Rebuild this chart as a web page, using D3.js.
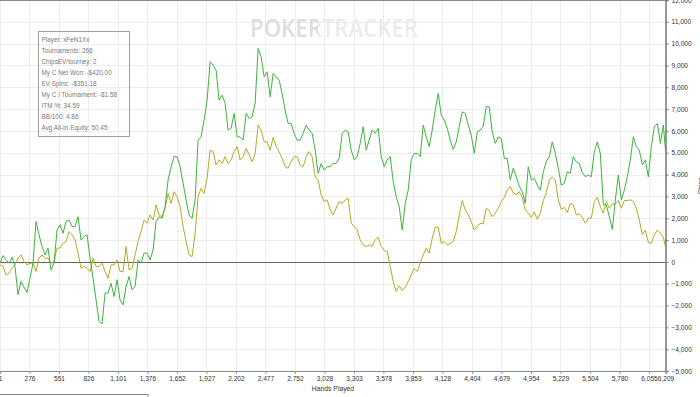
<!DOCTYPE html>
<html><head><meta charset="utf-8">
<script src="https://cdn.jsdelivr.net/npm/d3@7/dist/d3.min.js"></script>
<style>html,body{margin:0;padding:0;background:#fff;overflow:hidden}svg{display:block}</style>
</head><body><svg id="c" width="700" height="397"></svg>
<script>
// ---- data ----
const handStart = 1, handEnd = 6209, handStep = 28;
const xTickLabels = [1,276,551,826,1101,1376,1652,1927,2202,2477,2752,3028,3303,3578,3853,4128,4404,4679,4954,5229,5504,5780,6055,6209];
const yTickValues = [-5000,-4000,-3000,-2000,-1000,0,1000,2000,3000,4000,5000,6000,7000,8000,9000,10000,11000,12000];
const netWon = [-60,290,90,-60,210,-210,-1500,-900,-1160,-1400,-750,-60,1850,1240,700,320,630,-370,-60,1460,1700,1310,1850,1920,1620,1620,2070,1000,1160,1240,170,-750,-1740,-2730,-2850,-1430,-1430,-980,-1590,-820,-1740,-1970,-1130,-670,-1280,-1130,90,-60,400,400,90,550,1850,2070,2000,2530,3750,
4360,4820,4820,4360,3600,2840,2150,2000,2840,5580,5730,6500,7410,9170,9010,8780,7410,7640,7260,6040,6120,6800,5730,5730,5580,6800,6570,6650,7260,9780,9400,8480,8710,7560,8630,8480,8330,7720,6950,6340,6340,5890,5580,5580,5890,6270,6040,5890,5120,4060,4510,4210,4360,4360,4510,
4510,4740,5890,6040,5960,5120,4670,4820,5430,6190,5120,5580,6040,5890,6120,4820,4360,4670,4820,3680,2990,2530,1460,2680,3290,4670,4970,4970,4820,6270,5730,5280,6040,6950,7720,6730,6500,6120,5580,5150,5500,6190,6880,6800,6270,5810,4970,5960,6040,6220,7110,7110,5960,5430,5730,
5660,4740,4740,3750,4290,3900,3450,3220,2680,4360,3750,3830,3520,3290,4130,4590,4820,5500,4970,4290,3520,3600,4130,4060,4820,4590,4510,4090,3900,3980,3900,5050,5500,4970,2610,2610,2070,1490,2840,3980,2840,3290,3900,4670,5730,5280,5120,4440,4670,3900,5280,6190,6340,5430,6270,5100];
const evWon = [-140,-210,-600,-520,-290,-140,170,320,20,-140,-60,-60,-440,170,320,170,170,-60,20,630,630,850,930,1390,1240,1010,400,-290,-210,-290,-440,170,-210,-210,-60,-440,-750,-140,-140,90,-440,-440,700,-370,-290,320,930,1390,1920,1770,2150,1920,2610,2150,2070,2460,3140,
2680,3220,2990,2530,1620,930,320,240,1310,2990,3370,3140,3830,5120,5050,4440,4670,4510,4820,4510,4670,5050,5280,4670,4820,5200,4900,4590,4970,6270,6040,5500,5500,5120,5700,5280,5050,4740,4360,4290,4590,4820,4820,4440,4360,4820,5050,4820,3900,3750,3070,2760,2840,2380,2150,
2460,2760,2680,2840,2910,1770,1620,1460,1010,780,700,780,700,1010,1130,700,520,470,-210,-900,-1360,-1100,-1310,-1160,-900,-600,-290,-440,-60,320,630,400,1080,1590,1590,850,930,780,850,930,1390,2150,2810,2380,2150,1850,1460,1620,1770,1740,2460,2350,2070,2230,2460,
2760,2960,3290,3450,3170,3070,3220,2960,2380,2230,2040,2290,1950,2230,2810,3170,3750,3900,3750,2840,2410,2500,2260,2680,2610,2150,2200,2040,1770,2000,2000,2760,2960,2530,2230,2760,2460,2650,2650,2810,2460,2810,2810,2840,2760,2460,1920,1240,1460,890,850,1240,1460,1310,1130,700];
const statLines = ["Player: xFeN1Xx","Tournaments: 266","ChipsEV/tourney: 2","My C Net Won: -$420.00","EV Spins: -$351.18","My C / Tournament: -$1.58","ITM %: 34.59","BB/100: 4.86","Avg All-In Equity: 50.45"];

// ---- drawing ----
const svg = d3.select("#c");
const W = 665.5, H = 371;
const font = "'Liberation Sans', Arial, sans-serif";
const x = d3.scaleLinear().domain([handStart, handEnd]).range([0, W]);
const y = d3.scaleLinear().domain([-5000, 12000]).range([H, 0]);

function handAt(i, n){ return i === n - 1 ? handEnd : handStart + i * handStep; }

// grid
const g = svg.append("g");
g.selectAll(".vg").data(xTickLabels.slice(0, -1)).join("line")
  .attr("x1", d => Math.round(x(d)) + 0.5).attr("x2", d => Math.round(x(d)) + 0.5)
  .attr("y1", 0).attr("y2", H).attr("stroke", "#ededed");
g.selectAll(".hg").data(yTickValues).join("line")
  .attr("x1", 0).attr("x2", W)
  .attr("y1", d => Math.round(y(d)) + 0.5).attr("y2", d => Math.round(y(d)) + 0.5)
  .attr("stroke", "#ededed");

// watermark (one text, two-tone fill)
const grad = svg.append("defs").append("linearGradient").attr("id", "wmfill")
  .attr("gradientUnits", "userSpaceOnUse").attr("x1", 250).attr("x2", 418).attr("y1", 0).attr("y2", 0);
grad.append("stop").attr("offset", 0.405).attr("stop-color", "#dedede");
grad.append("stop").attr("offset", 0.405).attr("stop-color", "#ececec");
svg.append("text").attr("x", 250).attr("y", 37).attr("font-family", "'Open Sans', sans-serif").attr("font-size", 25)
  .attr("font-weight", 600).attr("fill", "url(#wmfill)")
  .attr("textLength", 168).attr("lengthAdjust", "spacingAndGlyphs").text("POKERTRACKER");

// top border
svg.append("line").attr("x1", 0).attr("x2", W).attr("y1", 0.5).attr("y2", 0.5).attr("stroke", "#8a8a8a");

// zero line
svg.append("line").attr("x1", 0).attr("x2", W).attr("y1", Math.round(y(0)) + 0.5).attr("y2", Math.round(y(0)) + 0.5)
  .attr("stroke", "#666").attr("stroke-width", 1);

// series
const line = d3.line().x((d, i, arr) => x(handAt(i, arr.length))).y(d => y(d));
svg.append("path").datum(evWon).attr("d", line).attr("fill", "none").attr("stroke", "#b3ab25").attr("stroke-width", 1);
svg.append("path").datum(netWon).attr("d", line).attr("fill", "none").attr("stroke", "#3db43d").attr("stroke-width", 1);

// right axis
const ya = svg.append("g").attr("transform", `translate(${W},0)`)
  .call(d3.axisRight(y).tickValues(yTickValues).tickSize(3).tickPadding(3).tickFormat(d3.format(",")));
ya.select(".domain").attr("stroke", "#777").attr("stroke-width", 1.5);
ya.selectAll(".tick line").attr("stroke", "#777");
ya.selectAll("text").attr("font-family", font).attr("font-size", 6.6).attr("fill", "#333");

// bottom axis
const xa = svg.append("g").attr("transform", `translate(0,${H})`)
  .call(d3.axisBottom(x).tickValues(xTickLabels).tickSize(3).tickPadding(2).tickFormat(d3.format(",")));
xa.select(".domain").attr("stroke", "#888");
xa.selectAll(".tick line").attr("stroke", "#999");
xa.selectAll("text").attr("font-family", font).attr("font-size", 6.6).attr("fill", "#333");

svg.append("text").attr("x", 333).attr("y", 391).attr("text-anchor", "middle")
  .attr("font-family", font).attr("font-size", 6.8).attr("fill", "#333").text("Hands Played");
svg.append("text").attr("transform", "translate(703,186) rotate(-90)").attr("text-anchor", "middle")
  .attr("font-family", font).attr("font-size", 6.6).attr("fill", "#333").text("Chips");

// stats box
svg.append("rect").attr("x", 38.5).attr("y", 31.5).attr("width", 91).attr("height", 105)
  .attr("fill", "none").attr("stroke", "#a0a0a0");
svg.selectAll(".st").data(statLines).join("text")
  .attr("x", 41.5).attr("y", (d, i) => 41.5 + i * 11.08)
  .attr("font-family", font).attr("font-size", 6.4).attr("fill", "#7a7a7a").text(d => d);

// cut-off legend box at bottom
svg.append("rect").attr("x", -1).attr("y", 394.5).attr("width", 149).attr("height", 20)
  .attr("fill", "#fff").attr("stroke", "#888");
</script></body></html>
